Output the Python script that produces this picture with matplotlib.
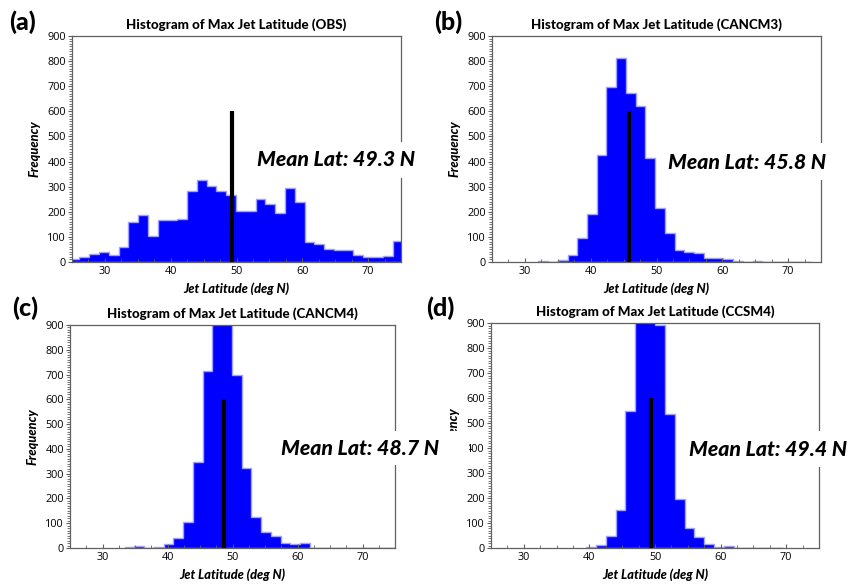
import numpy as np
import matplotlib
matplotlib.use('Agg')
import matplotlib.pyplot as plt
from matplotlib.patches import Rectangle
from matplotlib.ticker import MultipleLocator

# ---------------- data ----------------
panel_letters = ['(a)', '(b)', '(c)', '(d)']
model_names = ['OBS', 'CANCM3', 'CANCM4', 'CCSM4']
mean_lats = [49.3, 45.8, 48.7, 49.4]
mean_line_top = 600

obs_bin_start, obs_bin_width = 24.65, 1.487
obs_counts = [10, 20, 33, 41, 27, 61, 159, 187, 105, 169, 169, 173, 281, 328, 304,
              281, 267, 204, 204, 252, 232, 195, 295, 240, 80, 72, 50, 48, 48, 27,
              20, 20, 23, 82]

cancm3_bin_start, cancm3_bin_width = 32.04, 1.48
cancm3_counts = [2, 0, 7, 28, 96, 191, 426, 698, 811, 674, 620, 414, 215, 117, 49,
                 41, 37, 17, 17, 12, 4, 1, 3, 0, 0, 0, 0, 1]

cancm4_bin_start, cancm4_bin_width = 33.4, 1.5
cancm4_counts = [3, 8, 1, 5, 15, 42, 105, 348, 714, 1000, 960, 697, 324, 126, 66,
                 50, 20, 16, 20, 1, 1, 1, 0, 0, 0, 0, 0, 1]

ccsm4_bin_start, ccsm4_bin_width = 39.5, 1.5
ccsm4_counts = [5, 11, 48, 154, 548, 1000, 980, 891, 535, 198, 81, 44, 16, 4, 7,
                1, 0, 0, 1, 1]

x_range = (25, 75)
y_range = (0, 900)
x_ticks = [30, 40, 50, 60, 70]
y_ticks = [0, 100, 200, 300, 400, 500, 600, 700, 800, 900]

# ---------------- layout ----------------
W, H = 849, 584
fig = plt.figure(figsize=(W / 100, H / 100), dpi=100)
plt.rcParams['font.family'] = ['Open Sans', 'DejaVu Sans']

def fx(x):
    return x / W

def fy(y):
    return 1 - y / H

# pixel boxes: left, top, right, bottom
axes_px = [(72, 36, 401, 262), (492, 36, 821, 262),
           (70, 325, 395, 548), (491, 323, 819, 548)]
letter_px = [(23, 22), (448, 22), (25, 308), (440, 308)]
text_px = [(257, 166), (668, 169), (281, 455), (689, 456.5)]
box_px = [(250, 142, 445, 178), (662, 143, 849, 180),
          (275, 431, 469, 465), (683, 431, 849, 467)]

datasets = [
    (obs_bin_start, obs_bin_width, obs_counts),
    (cancm3_bin_start, cancm3_bin_width, cancm3_counts),
    (cancm4_bin_start, cancm4_bin_width, cancm4_counts),
    (ccsm4_bin_start, ccsm4_bin_width, ccsm4_counts),
]

spine_col = '#606060'
label_font = 'Lato'
heavy = 'black'

for i in range(4):
    l, t, r, b = axes_px[i]
    ax = fig.add_axes([fx(l), fy(b), (r - l) / W, (b - t) / H])
    start, width, counts = datasets[i]
    counts = np.array(counts, dtype=float)
    edges = start + width * np.arange(len(counts) + 1)
    ax.hist(edges[:-1] + width / 2, bins=edges, weights=counts,
            histtype='stepfilled', facecolor='#0000ff', edgecolor='#a0a0ff',
            linewidth=1.0)
    ax.plot([mean_lats[i], mean_lats[i]], [0, mean_line_top], color='black',
            linewidth=3.0, solid_capstyle='butt')
    ax.set_xlim(*x_range)
    ax.set_ylim(*y_range)
    ax.set_xticks(x_ticks)
    ax.set_yticks(y_ticks)
    ax.xaxis.set_minor_locator(MultipleLocator(2.5))
    ax.yaxis.set_minor_locator(MultipleLocator(10))
    for s in ax.spines.values():
        s.set_color(spine_col)
        s.set_linewidth(0.9)
    ax.tick_params(axis='y', which='major', direction='out', length=3,
                   width=0.8, color=spine_col, labelsize=7.8, pad=1.5)
    ax.tick_params(axis='y', which='minor', direction='out', length=2,
                   width=0.6, color=spine_col)
    ax.tick_params(axis='x', which='major', direction='in', length=3,
                   width=0.8, color=spine_col, labelsize=7.8, pad=3)
    ax.tick_params(axis='x', which='minor', direction='in', length=2,
                   width=0.6, color=spine_col)
    ax.set_title('Histogram of Max Jet Latitude (%s)' % model_names[i],
                 fontsize=9.6, fontweight=heavy, family=label_font, pad=4.8)
    ax_h = b - t
    ax.text(0.5, -30.7 / ax_h, 'Jet Latitude (deg N)', transform=ax.transAxes,
            ha='center', va='baseline', fontsize=9.2, fontweight=heavy,
            style='italic', family=label_font)
    fig.text(fx(l - 37.5), fy((t + b) / 2), 'Frequency', rotation=90,
             ha='center', va='center', fontsize=9.2, fontweight=heavy,
             style='italic', family=label_font)
    fig.text(fx(letter_px[i][0]), fy(letter_px[i][1]), panel_letters[i],
             ha='center', va='center', fontsize=18, fontweight=heavy,
             family=label_font)

for i in range(4):
    x0, y0, x1, y1 = box_px[i]
    fig.add_artist(Rectangle((fx(x0), fy(y1)), (x1 - x0) / W, (y1 - y0) / H,
                             transform=fig.transFigure, facecolor='white',
                             edgecolor='none', zorder=5))
    fig.text(fx(text_px[i][0]), fy(text_px[i][1]),
             'Mean Lat: %.1f N' % mean_lats[i], ha='left', va='baseline',
             fontsize=15.3, fontweight=heavy, style='italic', family=label_font,
             zorder=6)

fig.savefig('out.png', dpi=100)
